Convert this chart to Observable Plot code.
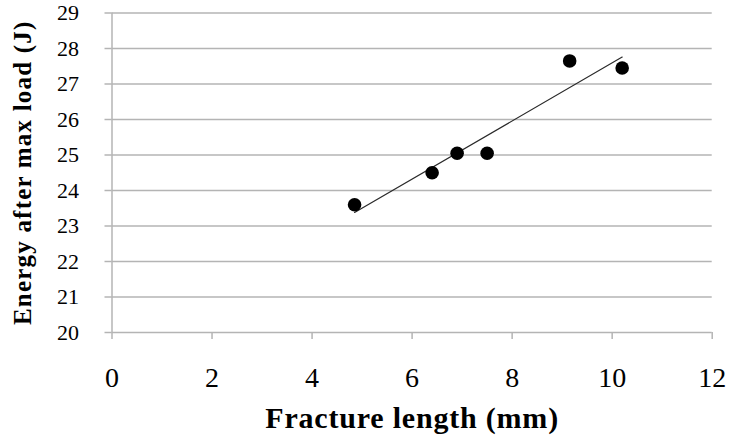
<!DOCTYPE html>
<html>
<head>
<meta charset="utf-8">
<script src="https://cdn.jsdelivr.net/npm/d3@7"></script>
<script src="https://cdn.jsdelivr.net/npm/@observablehq/plot@0.6"></script>
<style>
  html, body { margin: 0; padding: 0; background: #fff; }
  #chart svg { display: block; }
</style>
</head>
<body>
<div id="chart"></div>
<script>
// Data
const fractureLength = [4.85, 6.4, 6.9, 7.5, 9.15, 10.2];
const energyAfterMax = [23.6, 24.5, 25.05, 25.05, 27.65, 27.45];
const xTicks = [0, 2, 4, 6, 8, 10, 12];
const yTicks = [20, 21, 22, 23, 24, 25, 26, 27, 28, 29];
const xTitle = "Fracture length (mm)";
const yTitle = "Energy after max load (J)";

const data = fractureLength.map((x, i) => ({x, y: energyAfterMax[i]}));
const gridColor = "#b4b4b4";
const serif = "Liberation Serif";

const chart = Plot.plot({
  width: 730,
  height: 441,
  marginLeft: 111.5,
  marginRight: 18.3,
  marginTop: 12.5,
  marginBottom: 109,
  x: {domain: [0, 12]},
  y: {domain: [20, 29]},
  style: {background: "white", color: "black", fontFamily: serif},
  marks: [
    Plot.gridY(yTicks, {stroke: gridColor, strokeOpacity: 1, strokeWidth: 1.5}),
    Plot.ruleX([0], {stroke: gridColor, strokeWidth: 1.5}),
    Plot.axisY(yTicks, {tickSize: 7, tickPadding: 26, stroke: gridColor, strokeWidth: 1.5, fill: "black", fontSize: 22, fontFamily: serif, label: null, tickFormat: d => String(d)}),
    Plot.axisX(xTicks, {tickSize: 7, tickPadding: 28, stroke: gridColor, strokeWidth: 1.5, fill: "black", fontSize: 28, fontFamily: serif, label: null, tickFormat: d => String(d)}),
    Plot.linearRegressionY(data, {x: "x", y: "y", ci: 0, stroke: "#2a2a2a", strokeWidth: 1.2}),
    Plot.dot(data, {x: "x", y: "y", r: 6.8, fill: "black", stroke: "none"}),
    Plot.text([xTitle], {frameAnchor: "bottom", lineAnchor: "middle", textAnchor: "middle", dy: 86, text: d => d, fontSize: 30, fontWeight: "bold", fontFamily: serif, fill: "black"}),
    Plot.text([yTitle], {frameAnchor: "left", lineAnchor: "middle", textAnchor: "middle", dx: -89.5, rotate: -90, text: d => d, fontSize: 25, fontWeight: "bold", fontFamily: serif, fill: "black"})
  ]
});

document.getElementById("chart").appendChild(chart);

// Slightly widen the title lettering to match the reference's extent
d3.select(chart).selectAll("text").filter(function () { return this.textContent === xTitle; }).style("letter-spacing", "0.8px");
d3.select(chart).selectAll("text").filter(function () { return this.textContent === yTitle; }).style("letter-spacing", "1.2px");
</script>
</body>
</html>
